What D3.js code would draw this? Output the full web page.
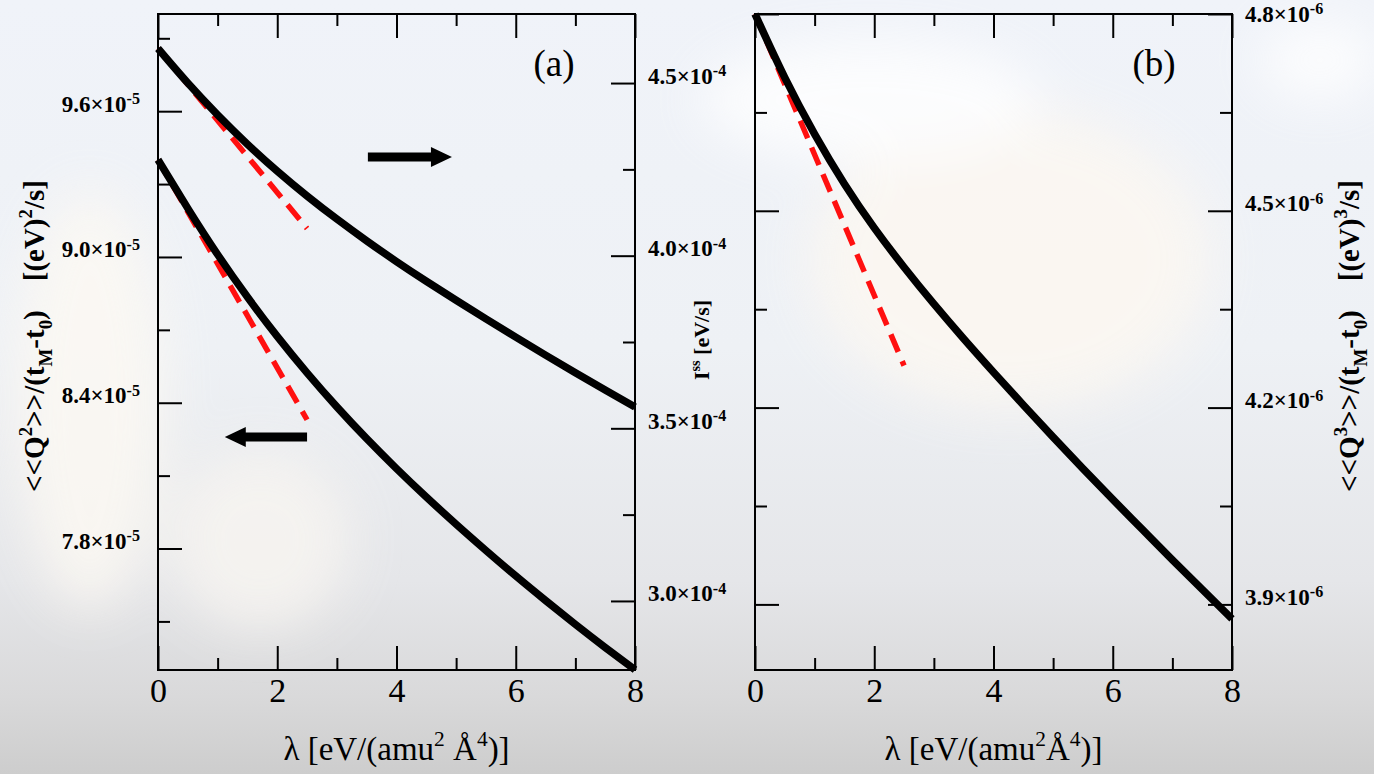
<!DOCTYPE html>
<html><head><meta charset="utf-8">
<script src="https://cdn.jsdelivr.net/npm/d3@7"></script>
<style>html,body{margin:0;padding:0;overflow:hidden;background:#e8eaee}</style>
</head><body>
<svg id="chart" width="1374" height="774"></svg>
<script>
// ---------------- data ----------------
const lambdaGrid = [0,0.5,1,1.5,2,2.5,3,3.5,4,4.5,5,5.5,6,6.5,7,7.5,8];
const q2Values  = [9.400,9.200,9.010,8.835,8.673,8.523,8.383,8.252,8.129,8.012,7.900,7.792,7.687,7.586,7.488,7.393,7.301]; // x1e-5
const issValues = [4.600,4.500,4.408,4.323,4.245,4.173,4.106,4.043,3.983,3.926,3.871,3.817,3.764,3.712,3.661,3.611,3.562]; // x1e-4
const q3Values  = [4.800,4.703,4.617,4.541,4.474,4.414,4.358,4.305,4.254,4.204,4.155,4.107,4.060,4.014,3.968,3.923,3.878]; // x1e-6
const tangentLambda = [0, 2.5];
const q2Tangent  = [9.40, 8.33];
const issTangent = [4.60, 4.079];
const q3Tangent  = [4.80, 4.264];
const xTicks = [0,2,4,6,8];
const xMinorTicks = [1,3,5,7];
const q2Ticks = [7.8,8.4,9.0,9.6];
const q2MinorTicks = [7.5,8.1,8.7,9.3,9.9];
const issTicks = [3.0,3.5,4.0,4.5];
const issMinorTicks = [3.25,3.75,4.25];
const q3Ticks = [3.9,4.2,4.5,4.8];
const q3MinorTicks = [4.05,4.35,4.65];
const arrowRightLambda = [3.52, 4.93]; const arrowRightValue = 4.286; // right axis
const arrowLeftLambda  = [2.50, 1.12]; const arrowLeftValue  = 8.259; // left axis

// ---------------- setup ----------------
const FONT = "'Liberation Serif','Times New Roman',Times,serif";
const svg = d3.select("#chart");
const defs = svg.append("defs");
const bg = defs.append("linearGradient").attr("id","bg").attr("x1",0).attr("y1",0).attr("x2",0).attr("y2",1);
[["0","#f0f3f9"],["0.45","#eef1f5"],["0.75","#e5e6e9"],["0.9","#d9d9da"],["1","#cdcdcd"]]
  .forEach(([o,c])=>bg.append("stop").attr("offset",o).attr("stop-color",c));
svg.append("rect").attr("width",1374).attr("height",774).attr("fill","url(#bg)");
const blur = defs.append("filter").attr("id","blur").attr("x","-50%").attr("y","-50%").attr("width","200%").attr("height","200%");
blur.append("feGaussianBlur").attr("stdDeviation",25);
const wm = svg.append("g").attr("filter","url(#blur)").attr("opacity",0.8);
wm.append("ellipse").attr("cx",1010).attr("cy",260).attr("rx",200).attr("ry",150).attr("fill","#fdf8f1");
wm.append("ellipse").attr("cx",870).attr("cy",100).attr("rx",170).attr("ry",60).attr("fill","#ffffff");
wm.append("ellipse").attr("cx",90).attr("cy",400).attr("rx",75).attr("ry",210).attr("fill","#fdf9f3");
wm.append("ellipse").attr("cx",1320).attr("cy",60).attr("rx",60).attr("ry",40).attr("fill","#ffffff");
wm.append("ellipse").attr("cx",260).attr("cy",540).attr("rx",90).attr("ry",90).attr("fill","#f8f5f1");

const xA = d3.scaleLinear([0,8],[158,635]);
const xB = d3.scaleLinear([0,8],[755,1232]);
const yQ2 = d3.scaleLinear([7.3,10.0],[670,14]);
const yIss = d3.scaleLinear([2.8,4.7],[670,14]);
const yQ3 = d3.scaleLinear([3.8,4.8],[670,14]);

function rich(textSel, parts, fs, supRatio=0.65, supShift=0.42) {
  let shift = 0;
  parts.forEach(p => {
    const target = p.sup ? -fs*supShift : p.sub ? fs*0.28 : 0;
    const ts = textSel.append("tspan").text(p.t).attr("dy", target - shift);
    if (p.sup || p.sub) ts.attr("font-size", fs*supRatio);
    shift = target;
  });
}

function styleAxis(g) {
  g.select(".domain").remove();
  g.selectAll(".tick line").attr("stroke","#000").attr("stroke-width",2);
}

function xAxes(x) {
  const [y0,y1] = [670,14];
  const gb = svg.append("g").attr("transform",`translate(0,${y0})`)
    .call(d3.axisBottom(x).tickValues(xTicks).tickSizeInner(-24).tickSizeOuter(0).tickPadding(8).tickFormat(d3.format("d")));
  styleAxis(gb);
  gb.selectAll(".tick text").attr("font-family",FONT).attr("font-size",34).attr("fill","#000");
  const gbm = svg.append("g").attr("transform",`translate(0,${y0})`)
    .call(d3.axisBottom(x).tickValues(xMinorTicks).tickSizeInner(-12).tickSizeOuter(0).tickFormat(""));
  styleAxis(gbm);
  const gt = svg.append("g").attr("transform",`translate(0,${y1})`)
    .call(d3.axisTop(x).tickValues(xTicks).tickSizeInner(-24).tickSizeOuter(0).tickFormat(""));
  styleAxis(gt);
  const gtm = svg.append("g").attr("transform",`translate(0,${y1})`)
    .call(d3.axisTop(x).tickValues(xMinorTicks).tickSizeInner(-12).tickSizeOuter(0).tickFormat(""));
  styleAxis(gtm);
}

function yAxis(y, xpos, side, major, minor, exp, labels) {
  const mk = side === "left" ? d3.axisLeft : d3.axisRight;
  const g = svg.append("g").attr("transform",`translate(${xpos},0)`)
    .call(mk(y).tickValues(major).tickSizeInner(-24).tickSizeOuter(0).tickPadding(side==="left"?18:13).tickFormat(d3.format(".1f")));
  styleAxis(g);
  if (labels) {
    g.selectAll(".tick text").attr("font-family",FONT).attr("font-size",23).attr("font-weight","bold").attr("fill","#000")
      .attr("transform", d => y(d) < 30 ? "translate(0,7)" : null)
      .each(function(d){ const t=d3.select(this); t.text(null); rich(t,[{t:d3.format(".1f")(d)+"×10"},{t:exp,sup:true}],23,0.7,0.33); });
  } else g.selectAll(".tick text").remove();
  const gm = svg.append("g").attr("transform",`translate(${xpos},0)`)
    .call(mk(y).tickValues(minor).tickSizeInner(-12).tickSizeOuter(0).tickFormat(""));
  styleAxis(gm);
}

function frame(x) {
  svg.append("rect").attr("x",x.range()[0]).attr("y",14).attr("width",x.range()[1]-x.range()[0]).attr("height",656)
    .attr("fill","none").attr("stroke","#000").attr("stroke-width",2);
}

function curve(x, y, vals, w) {
  svg.append("path").datum(lambdaGrid.map((l,i)=>[l,vals[i]]))
    .attr("d", d3.line().x(d=>x(d[0])).y(d=>y(d[1])).curve(d3.curveNatural))
    .attr("fill","none").attr("stroke","#000").attr("stroke-width",w);
}
function tangent(x, y, vals) {
  svg.append("path").datum(tangentLambda.map((l,i)=>[l,vals[i]]))
    .attr("d", d3.line().x(d=>x(d[0])).y(d=>y(d[1])))
    .attr("fill","none").attr("stroke","#ff1010").attr("stroke-width",5.5).attr("stroke-dasharray","19,10");
}
function arrow(x1, x2, yy) {
  const dir = Math.sign(x2 - x1), head = 21, hh = 10, sh = 4.5;
  const xs = x2 - dir*head;
  svg.append("path").attr("d",
    `M${x1},${yy-sh}L${xs},${yy-sh}L${xs},${yy-hh}L${x2},${yy}L${xs},${yy+hh}L${xs},${yy+sh}L${x1},${yy+sh}Z`)
    .attr("fill","#000");
}

// ---------------- panel (a) ----------------
tangent(xA, yIss, issTangent);
tangent(xA, yQ2, q2Tangent);
curve(xA, yIss, issValues, 7.5);
curve(xA, yQ2, q2Values, 7.5);
arrow(xA(arrowRightLambda[0]), xA(arrowRightLambda[1]), yIss(arrowRightValue));
arrow(xA(arrowLeftLambda[0]), xA(arrowLeftLambda[1]), yQ2(arrowLeftValue));
frame(xA);
xAxes(xA);
yAxis(yQ2, 158, "left", q2Ticks, q2MinorTicks, "-5", true);
yAxis(yIss, 635, "right", issTicks, issMinorTicks, "-4", true);

// ---------------- panel (b) ----------------
tangent(xB, yQ3, q3Tangent);
curve(xB, yQ3, q3Values, 7.5);
frame(xB);
xAxes(xB);
yAxis(yQ3, 755, "left", q3Ticks, q3MinorTicks, "-6", false);
yAxis(yQ3, 1232, "right", q3Ticks, q3MinorTicks, "-6", true);

// ---------------- texts ----------------
svg.append("text").attr("x",554).attr("y",76).attr("text-anchor","middle").attr("font-family",FONT).attr("font-size",37).text("(a)");
svg.append("text").attr("x",1154).attr("y",76).attr("text-anchor","middle").attr("font-family",FONT).attr("font-size",37).text("(b)");

function xTitle(cx, gap) {
  const t = svg.append("text").attr("x",cx).attr("y",760).attr("text-anchor","middle").attr("font-family",FONT).attr("font-size",33);
  rich(t,[{t:"λ [eV/(amu"},{t:"2",sup:true},{t:gap+"Å"},{t:"4",sup:true},{t:")]"}],33);
}
xTitle(396.5, "\u00a0");
xTitle(993.5, "");

function yTitle(cx, cy, n) {
  const t = svg.append("text").attr("transform",`translate(${cx},${cy}) rotate(-90)`).attr("text-anchor","middle")
    .attr("font-family",FONT).attr("font-size",29).attr("font-weight","bold");
  rich(t,[{t:"<<Q"},{t:n,sup:true},{t:">>/(t"},{t:"M",sub:true},{t:"-t"},{t:"0",sub:true},{t:")\u00a0\u00a0\u00a0\u00a0[(eV)"},{t:n,sup:true},{t:"/s]"}],29);
}
yTitle(44, 336, "2");
yTitle(1359, 336, "3");

const ti = svg.append("text").attr("transform","translate(709,340) rotate(-90)").attr("text-anchor","middle")
  .attr("font-family",FONT).attr("font-size",22).attr("font-weight","bold");
rich(ti,[{t:"I"},{t:"ss",sup:true},{t:" [eV/s]"}],22);
</script>
</body></html>
